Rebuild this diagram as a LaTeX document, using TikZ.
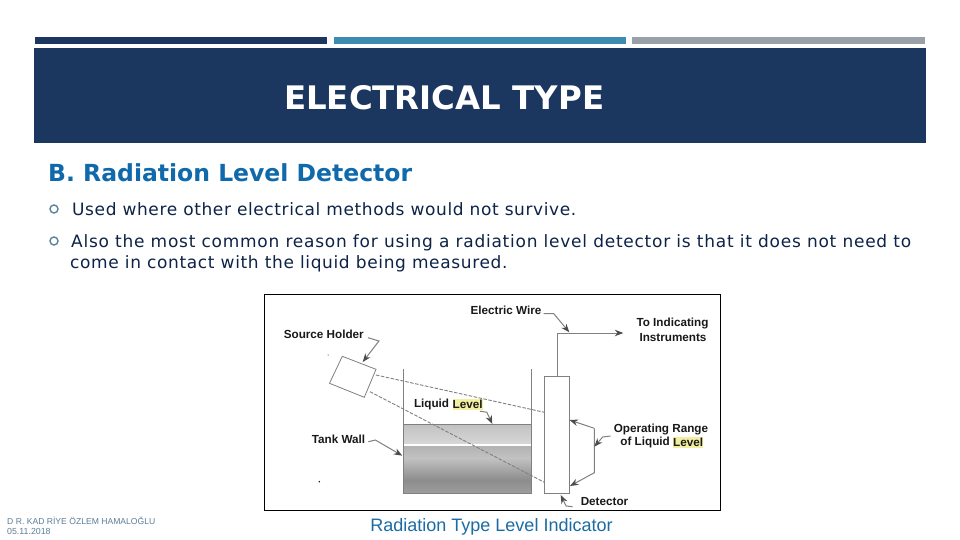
\documentclass[tikz,border=0pt]{standalone}
\usepackage{fontspec}
\setmainfont{DejaVu Sans}
\newfontfamily\arialf{Liberation Sans}
\usetikzlibrary{arrows.meta}
\definecolor{navy}{HTML}{1B365F}
\definecolor{barblue}{HTML}{3D8AB3}
\definecolor{bargray}{HTML}{9AA0A8}
\definecolor{headblue}{HTML}{0F69AB}
\definecolor{capblue}{HTML}{1A6CA3}
\definecolor{bodyc}{HTML}{0D2347}
\definecolor{footc}{HTML}{5D7D96}
\definecolor{bulc}{HTML}{5A8296}
\definecolor{lineg}{gray}{0.5}
\definecolor{hl}{HTML}{F2EFA0}
\tikzset{
  x=1pt,y=-1pt,
  txt/.style={anchor=base west,inner sep=0pt,text=bodyc},
  bul/.style={circle,draw=bulc,line width=1.4pt,minimum size=8pt,inner sep=0pt},
  lbl/.style={inner sep=0pt,text=black!90,font=\fontsize{11.7}{11.7}\selectfont\arialf\bfseries},
  part/.style={draw=lineg,line width=1pt},
  beam/.style={draw=lineg,line width=.9pt,dash pattern=on 3.5pt off 1.5pt},
  lead/.style={draw=lineg,line width=1pt,-{Stealth[length=8.5pt,width=6.5pt,color=black!70,fill=black!70]}},
}
\begin{document}
\begin{tikzpicture}
\useasboundingbox (0,0) rectangle (960,540);
\fill[white] (0,0) rectangle (960,540);
\fill[navy] (35,37) rectangle (327,44);
\fill[barblue] (334,37) rectangle (626,44);
\fill[bargray] (632,37) rectangle (925,44);
\fill[navy] (34,48) rectangle (926,143);
\node[anchor=base west,inner sep=0pt,text=white,font=\fontsize{32.4}{32}\selectfont\bfseries] (title) at (284,109.5) {ELECTRICAL TYPE};
\node[anchor=base west,inner sep=0pt,text=headblue,font=\fontsize{23.5}{24}\selectfont\bfseries] (head) at (48,181.7) {B. Radiation Level Detector};
\node[bul] (b1) at (54,209) {};
\node[txt,font=\fontsize{17}{17}\selectfont\addfontfeature{LetterSpace=3.6}] (t1) at (72,215) {Used where other electrical methods would not survive.};
\node[bul] (b2) at (54,241) {};
\node[txt,font=\fontsize{17}{17}\selectfont\addfontfeature{LetterSpace=4.4}] (t2) at (71,247) {Also the most common reason for using a radiation level detector is that it does not need to};
\node[txt,font=\fontsize{17}{17}\selectfont\addfontfeature{LetterSpace=3.8}] (t3) at (70,268.7) {come in contact with the liquid being measured.};
% figure
\draw[black,line width=1pt] (264.5,294.5) rectangle (720,510);
% liquid
\shade[top color=black!24,bottom color=black!16] (403.5,424.5) rectangle (531.5,443.5);
\fill[white] (403.5,443.5) rectangle (531.5,446);
\shade[top color=black!30,bottom color=black!24] (403.5,446) rectangle (531.5,458);
\shade[top color=black!24,bottom color=black!45] (403.5,458) rectangle (531.5,480);
\shade[top color=black!45,bottom color=black!38] (403.5,480) rectangle (531.5,493.5);
\draw[part] (403.5,424.5) -- (531.5,424.5);
\draw[part] (403.5,368.5) -- (403.5,493.5) -- (531.5,493.5) -- (531.5,368.5);
% source
\coordinate (s1) at (342.3,356.3);
\coordinate (s2) at (376,369.3);
\coordinate (s3) at (364.3,397.3);
\coordinate (s4) at (329.5,383.3);
\draw[part,line width=.8pt] (s1) -- (s2) -- (s3) -- (s4) -- cycle;
% detector
\node[draw=lineg,line width=1pt,fill=white,minimum width=24.7pt,minimum height=117.6pt,inner sep=0pt,anchor=north west] (det) at (544.3,375.7) {};
\coordinate (be1) at (544.3,412.3);
\coordinate (be2) at (544.3,482.3);
\coordinate (bs1) at (376,375);
\coordinate (bs2) at (370,391.7);
\draw[beam] (bs1) -- (be1);
\draw[beam] (bs2) -- (be2);
% wire
\coordinate (w0) at (557.3,375.7);
\coordinate (w1) at (557.3,333);
\coordinate (w2) at (623.3,333);
\draw[lead] (w0) -- (w1) -- (w2);
% labels
\node[lbl] (sh) at (323.8,334) {Source Holder};
\node[lbl] (ew) at (506,310.5) {Electric Wire};
\node[lbl] (ti) at (672.5,323) {To Indicating};
\node[lbl] (ins) at (673,337.7) {Instruments};
\node[lbl,anchor=east] (ll) at (449.3,404.7) {Liquid};
\node[lbl,anchor=west,fill=hl,inner ysep=1pt] (ll2) at (452.5,404.7) {Level};
\node[lbl] (tw) at (338.5,439.7) {Tank Wall};
\node[lbl] (op) at (661,429.3) {Operating Range};
\node[lbl,anchor=east] (of) at (670,442.7) {of Liquid};
\node[lbl,anchor=west,fill=hl,inner ysep=1pt] (of2) at (673,442.7) {Level};
\node[lbl] (dt) at (604.5,502) {Detector};
% leaders
\draw[lead] (sh.east) ++(4,3.7) -- ++(11,3.3) -- (362.7,362);
\draw[lead] (ew.east) ++(2,3) -- ++(10,0) -- (569.3,332.3);
\draw[lead] (ll2.south east) ++(-3,1) -- ++(7,1) -- (492.3,424);
\draw[lead] (tw.east) ++(3,2) -- ++(7,-1.7) -- (402.3,455.7);
\draw[lead] (dt.west) ++(-8,4.7) -- ++(-6.5,-.7) -- (560.7,495);
\coordinate (br) at (594.3,446.7);
\draw[lead] (594.3,428.3) -- (569.5,420);
\draw[lead] (594.3,428.3) -- (594.3,472.7) -- (570,486);
\draw[lead] (op.west) ++(-3,6.7) -- ++(-8,1) -- (br);
\fill[black] (328,355) circle (.5);
\fill[black] (319.3,481.7) circle (.8);
% caption & footer
\node[anchor=base,inner sep=0pt,text=capblue,font=\fontsize{18}{18}\selectfont\arialf] (cap) at (491.5,531.7) {Radiation Type Level Indicator};
\node[anchor=west,inner sep=0pt,text=footc,font=\fontsize{8.6}{8.6}\selectfont\arialf] (f1) at (7,521) {D R. KAD RİYE ÖZLEM HAMALOĞLU};
\node[anchor=west,inner sep=0pt,text=footc,font=\fontsize{8.8}{8.8}\selectfont\arialf] (f2) at (7,531) {05.11.2018};
\end{tikzpicture}
\end{document}
